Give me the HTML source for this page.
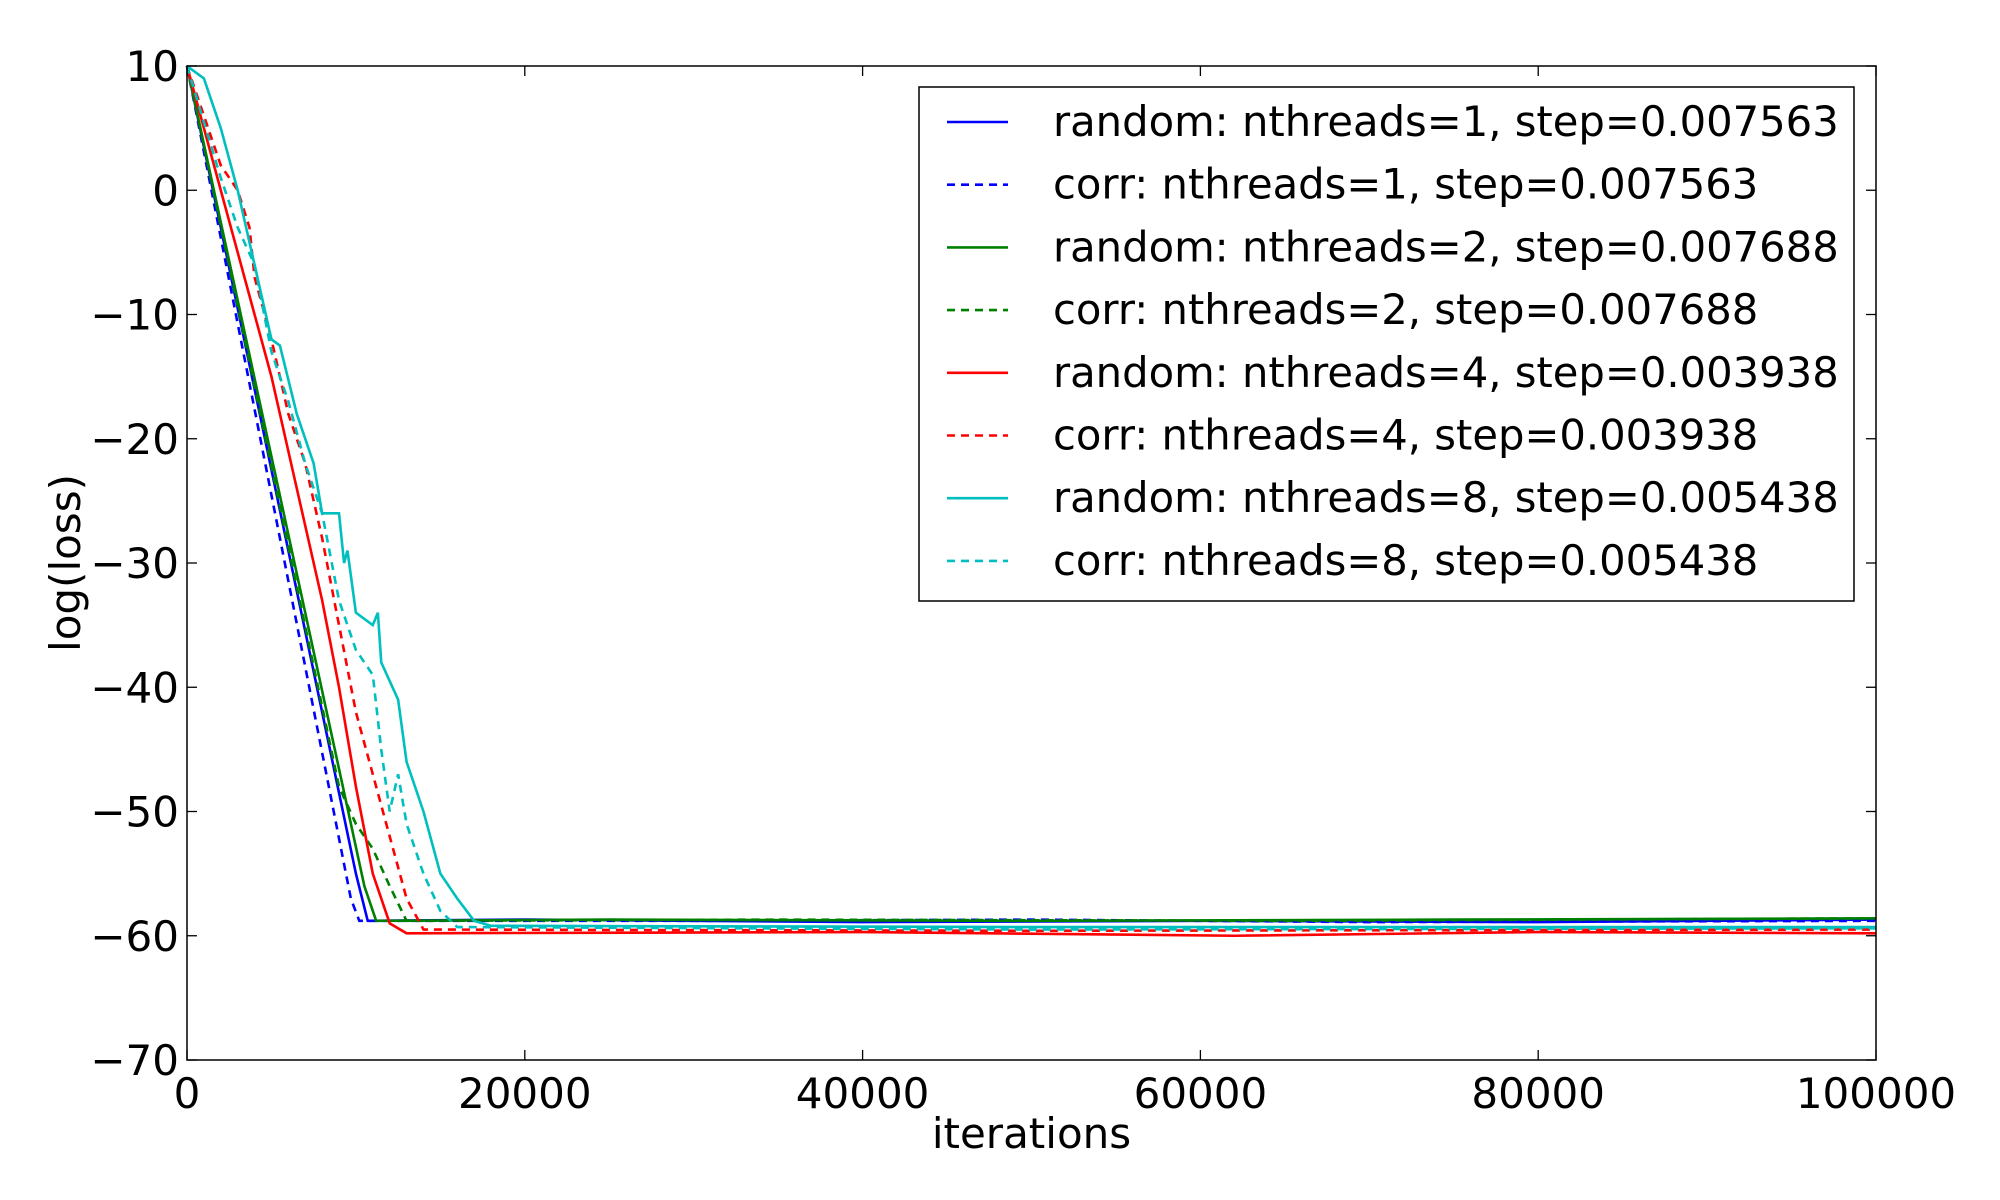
<!DOCTYPE html>
<html><head><meta charset="utf-8"><style>
body{margin:0;background:#fff;}
svg{display:block;font-family:"DejaVu Sans","Liberation Sans",sans-serif;}
</style></head><body>
<svg id="chart" width="2000" height="1200" viewBox="0 0 2000 1200">
<g id="plot"></g>
</svg>
<script>
const xTicks=[0,20000,40000,60000,80000,100000];
const yTicks=[10,0,-10,-20,-30,-40,-50,-60,-70];
const names=["random: nthreads=1, step=0.007563","corr: nthreads=1, step=0.007563","random: nthreads=2, step=0.007688","corr: nthreads=2, step=0.007688","random: nthreads=4, step=0.003938","corr: nthreads=4, step=0.003938","random: nthreads=8, step=0.005438","corr: nthreads=8, step=0.005438"];
const colors=["#0000ff","#0000ff","#008000","#008000","#ff0000","#ff0000","#00bfbf","#00bfbf"];
const dashed=[false,true,false,true,false,true,false,true];
const s1=[[0,10],[10000,-55],[10700,-58.8],[20000,-58.7],[40000,-58.9],[60000,-58.8],[80000,-58.9],[100000,-58.7]];
const s2=[[0,10],[9700,-57],[10200,-58.8],[30000,-58.8],[50000,-58.7],[70000,-58.9],[100000,-58.8]];
const s3=[[0,10],[10500,-56],[11200,-58.8],[25000,-58.7],[50000,-58.8],[75000,-58.7],[100000,-58.6]];
const s4=[[0,10],[9000,-48],[10000,-51],[11000,-53],[12000,-56],[13000,-58.8],[35000,-58.7],[65000,-58.8],[100000,-58.6]];
const s5=[[0,10],[2000,0],[5000,-15],[8000,-33],[9000,-40],[10000,-48],[11000,-55],[12000,-59],[13000,-59.8],[40000,-59.7],[62000,-60],[80000,-59.7],[100000,-59.8]];
const s6=[[0,10],[2000,2],[3000,0],[3700,-3],[4000,-7],[5000,-12],[6000,-18],[7000,-22],[8000,-28],[9000,-35],[10000,-42],[11000,-47],[12000,-52],[13000,-57],[14000,-59.5],[50000,-59.6],[100000,-59.5]];
const s7=[[0,10],[1000,9],[2000,5],[3000,0],[4000,-6],[5000,-12],[5500,-12.5],[6500,-18],[7500,-22],[8000,-26],[9000,-26],[9300,-30],[9500,-29],[10000,-34],[11000,-35],[11300,-34],[11500,-38],[12500,-41],[13000,-46],[14000,-50],[15000,-55],[16000,-57],[17000,-58.8],[18000,-59.2],[50000,-59.3],[100000,-59.3]];
const s8=[[0,10],[2000,1],[3000,-3],[4000,-6],[5000,-13],[6000,-17],[7000,-22],[8000,-26],[9000,-33],[10000,-37],[11000,-39],[11500,-45],[12000,-50],[12500,-47],[13000,-51],[14000,-55],[15000,-58],[16000,-59.3],[50000,-59.5],[100000,-59.4]];
const series=[s1,s2,s3,s4,s5,s6,s7,s8];
const L=187,R=1876,T=66,B=1060;
const X=v=>L+(v-0)/100000*(R-L);
const Y=v=>T+(10-v)/80*(B-T);
const ns="http://www.w3.org/2000/svg";
const g=document.getElementById('plot');
function mk(t,a,parent){const e=document.createElementNS(ns,t);for(const k in a)e.setAttribute(k,a[k]);(parent||g).appendChild(e);return e;}
series.forEach((s,i)=>{
 const p=mk('polyline',{points:s.map(d=>X(d[0])+','+Y(d[1])).join(' '),fill:'none',stroke:colors[i],'stroke-width':2.6,'stroke-dasharray':dashed[i]?'8,6':'none'});
 
 
});
const fr=mk('rect',{x:L,y:T,width:R-L,height:B-T,fill:'none',stroke:'#000','stroke-width':1.5});


xTicks.forEach(v=>{
 mk('line',{x1:X(v),x2:X(v),y1:B,y2:B-10,stroke:'#000','stroke-width':1.3});
 mk('line',{x1:X(v),x2:X(v),y1:T,y2:T+10,stroke:'#000','stroke-width':1.3});
 const t=mk('text',{x:X(v),y:B+48,'text-anchor':'middle','font-size':42});
 t.textContent=v;
 
 
});
yTicks.forEach(v=>{
 mk('line',{x1:L,x2:L+10,y1:Y(v),y2:Y(v),stroke:'#000','stroke-width':1.3});
 mk('line',{x1:R,x2:R-10,y1:Y(v),y2:Y(v),stroke:'#000','stroke-width':1.3});
 const t=mk('text',{x:L-8,y:Y(v)+15,'text-anchor':'end','font-size':42});
 t.textContent=v<0?'\u2212'+(-v):v;
 
 
});
const xl=mk('text',{x:(L+R)/2,y:1148,'text-anchor':'middle','font-size':42});
xl.textContent='iterations';


const yl=mk('text',{x:0,y:0,'text-anchor':'middle','font-size':42,transform:'translate(80,'+((T+B)/2)+') rotate(-90)'});
yl.textContent='log(loss)';


const lg=mk('g',{});


mk('rect',{x:919,y:87,width:935,height:514,fill:'#fff',stroke:'#000','stroke-width':1.5},lg);
names.forEach((n,i)=>{
 const y=122+i*62.7;
 mk('line',{x1:947,x2:1008,y1:y,y2:y,stroke:colors[i],'stroke-width':2.6,'stroke-dasharray':dashed[i]?'8,6':'none'},lg);
 const t=mk('text',{x:1053,y:y+14,'font-size':41.7},lg);
 t.textContent=n;
 
 
});
</script>
</body></html>
